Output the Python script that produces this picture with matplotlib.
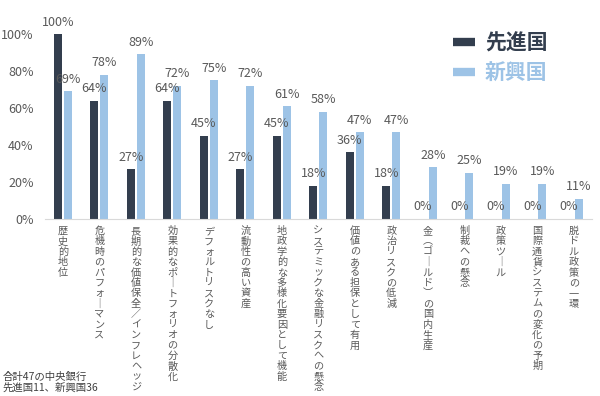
import numpy as np
import matplotlib
matplotlib.use('Agg')
import matplotlib.pyplot as plt
from matplotlib.lines import Line2D

plt.rcParams['font.family'] = ['Noto Sans CJK JP', 'DejaVu Sans']

# ── data ──────────────────────────────────────────────────────────────────
categories = [
    '歴史的地位',
    '危機時のパフォーマンス',
    '長期的な価値保全／インフレヘッジ',
    '効果的なポートフォリオの分散化',
    'デフォルトリスクなし',
    '流動性の高い資産',
    '地政学的な多様化要因として機能',
    'システミックな金融リスクへの懸念',
    '価値のある担保として有用',
    '政治リスクの低減',
    '金（ゴールド）の国内生産',
    '制裁への懸念',
    '政策ツール',
    '国際通貨システムの変化の予期',
    '脱ドル政策の一環',
]
advanced = [100, 64, 27, 64, 45, 27, 45, 18, 36, 18, 0, 0, 0, 0, 0]
emerging = [69, 78, 89, 72, 75, 72, 61, 58, 47, 47, 28, 25, 19, 19, 11]
series_names = ['先進国', '新興国']
footnote = '合計47の中央銀行\n先進国11、新興国36'

DARK  = '#333e4e'
LIGHT = '#9dc3e6'
GRAY  = '#595959'


def vertical(s):
    # stack characters top-to-bottom like tategaki
    swap = {'ー': '｜', '（': '︵', '）': '︶'}
    return '\n'.join(swap.get(c, c) for c in s)


fig = plt.figure(figsize=(6, 3.96), dpi=100)
ax = fig.add_axes([0.0746, 0.447, 0.912, 0.467])

x = np.arange(len(categories))
off, w = 0.137, 0.22
adv = np.array(advanced) / 100
emg = np.array(emerging) / 100

b1 = ax.bar(x - off, adv, width=w, color=DARK)
b2 = ax.bar(x + off, emg, width=w, color=LIGHT)
ax.bar_label(b1, labels=[f'{v}%' for v in advanced], padding=4,
             fontsize=9, color=GRAY)
ax.bar_label(b2, labels=[f'{v}%' for v in emerging], padding=4,
             fontsize=9, color=GRAY)

ax.set_xlim(-0.5, len(categories) - 0.5)
ax.set_ylim(0, 1.0)
ax.set_yticks(np.arange(0, 1.01, 0.2))
ax.set_yticklabels([f'{int(round(v * 100))}%' for v in np.arange(0, 1.01, 0.2)],
                   fontsize=9, color=GRAY)
ax.set_xticks(x)
ax.set_xticklabels([vertical(c) for c in categories], fontsize=7.3,
                   color=GRAY, linespacing=1.05, va='top')
ax.tick_params(axis='both', length=0)
ax.tick_params(axis='y', pad=8)
ax.tick_params(axis='x', pad=5)

for side in ['top', 'right', 'left']:
    ax.spines[side].set_visible(False)
ax.spines['bottom'].set_color('#d9d9d9')

# legend
handles = [Line2D([], [], color=DARK, lw=6, solid_capstyle='butt'),
           Line2D([], [], color=LIGHT, lw=6, solid_capstyle='butt')]
leg = fig.legend(handles, series_names, loc='upper left',
                 bbox_to_anchor=(0.723, 0.966), frameon=False,
                 prop={'size': 15, 'weight': 'bold'},
                 handlelength=1.1, handletextpad=0.45, labelspacing=0.44)
for t, c in zip(leg.get_texts(), [DARK, LIGHT]):
    t.set_color(c)

fig.text(0.004, 0.007, footnote, fontsize=7.5, color='#404040',
         ha='left', va='bottom', linespacing=1.1)

fig.savefig('out.png', dpi=100)
